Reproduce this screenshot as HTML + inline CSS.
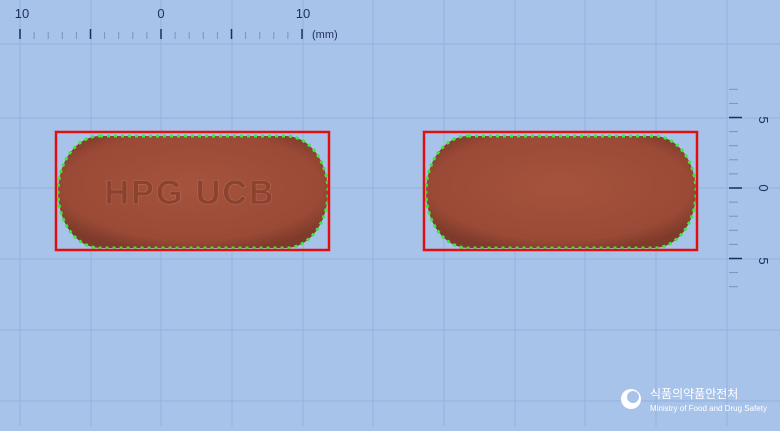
<!DOCTYPE html>
<html><head><meta charset="utf-8"><style>
body{margin:0;width:780px;height:426px;overflow:hidden;background:#a8c3ea;font-family:"Liberation Sans","Noto Sans CJK KR",sans-serif}
</style></head><body>
<svg width="780" height="426" xmlns="http://www.w3.org/2000/svg">
<defs>
<radialGradient id="pg" cx="50%" cy="45%" r="60%"><stop offset="0" stop-color="#a5533d"/><stop offset="0.8" stop-color="#9a4a36"/><stop offset="1" stop-color="#7e3a2a"/></radialGradient>
</defs>
<rect width="780" height="426" fill="#a8c3ea"/>
<g id="grid" stroke="#97b3dd" stroke-width="1.2"></g>
<g id="top-ruler" fill="#1d2e5a" font-size="13"></g>
<g id="side-ruler" fill="#1d2e5a" font-size="13"></g>
<g>
<rect x="58" y="136" width="270" height="112" rx="42" ry="56" fill="url(#pg)" stroke="#3fe83a" stroke-width="3" stroke-dasharray="3 4"/>
<text x="190" y="204" text-anchor="middle" font-size="34" font-weight="bold" fill="#8c4230" stroke="#b56a52" stroke-width="0.6" letter-spacing="2">HPG UCB</text>
<rect x="56" y="132" width="273" height="118" fill="none" stroke="#e01010" stroke-width="2.5"/>
</g>
<g>
<rect x="426" y="136" width="270" height="112" rx="42" ry="56" fill="url(#pg)" stroke="#3fe83a" stroke-width="3" stroke-dasharray="3 4"/>
<rect x="424" y="132" width="273" height="118" fill="none" stroke="#e01010" stroke-width="2.5"/>
</g>
<g>
<circle cx="631" cy="399" r="10" fill="#fff"/>
<circle cx="633" cy="397" r="6" fill="#a8c3ea"/>
<text x="650" y="398" font-size="12" fill="#fff">식품의약품안전처</text>
<text x="650" y="411" font-size="8" fill="#fff">Ministry of Food and Drug Safety</text>
</g>
</svg>
<script>
const ns="http://www.w3.org/2000/svg";
function mk(p,t,a){const e=document.createElementNS(ns,t);for(const k in a)e.setAttribute(k,a[k]);p.appendChild(e);return e;}
const g=document.getElementById('grid');
[20,91,161,232,303,373,444,515,585,656,727].forEach(x=>mk(g,'line',{x1:x,y1:0,x2:x,y2:426}));
[44,118,188,259,330,401].forEach(y=>mk(g,'line',{x1:0,y1:y,x2:780,y2:y}));
const tr=document.getElementById('top-ruler');
for(let i=0;i<=20;i++){const x=20+i*14.1;const maj=i%5==0;
mk(tr,'line',{x1:x,y1:maj?29:32,x2:x,y2:39,stroke:maj?'#1d2e5a':'#7e90b8','stroke-width':maj?1.5:1});}
[[22,'10'],[161,'0'],[303,'10']].forEach(([x,t])=>{const e=mk(tr,'text',{x:x,y:18,'text-anchor':'middle'});e.textContent=t;});
const u=mk(tr,'text',{x:312,y:38,'font-size':11});u.textContent='(mm)';
const sr=document.getElementById('side-ruler');
for(let i=-7;i<=7;i++){const y=188+i*14.1;const maj=i%5==0;
mk(sr,'line',{x1:729,y1:y,x2:maj?742:738,y2:y,stroke:maj?'#1d2e5a':'#7e90b8','stroke-width':maj?1.5:1});}
[[120,'5'],[188,'0'],[261,'5']].forEach(([y,t])=>{const e=mk(sr,'text',{x:0,y:0,'text-anchor':'middle',transform:`translate(759,${y}) rotate(90)`});e.textContent=t;});
</script>
</body></html>
